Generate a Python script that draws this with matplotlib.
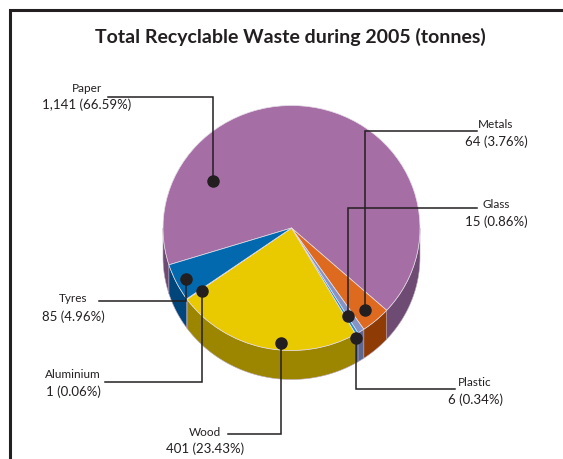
import numpy as np
import matplotlib
matplotlib.use("Agg")
import matplotlib.pyplot as plt
from matplotlib.patches import Polygon
from matplotlib.transforms import Affine2D

W, H = 563, 459

# Datos del grafico
categories = ["Paper", "Metals", "Glass", "Plastic", "Wood", "Aluminium", "Tyres"]
tonnes = ["1,141", "64", "15", "6", "401", "1", "85"]
percents = [66.59, 3.76, 0.86, 0.34, 23.43, 0.06, 4.96]

# Colores (cara superior y lateral)
top_colors = ["#A56FA6", "#DE6A20", "#8494C4", "#1F8DD6", "#E9C900", "#D8E2EC", "#0369AE"]
side_colors = ["#6E4B73", "#8F3B06", "#5B6894", "#155F92", "#9C8600", "#9AA4AE", "#00467B"]

# Geometria del pastel (pixeles, y hacia arriba)
CX, CY = 291.5, H - 228
RX, RY = 128.5, 122.5
DEPTH = 29
START = 197.5

# Etiquetas: (angulo, radio) del punto, centro x del texto, y nombre, y valor, y linea, x fin linea
labels = {
    "Paper": (147.9, 0.72, 87, 88, 105, 97, 108),
    "Metals": (-49.5, 0.88, 496, 124, 142, 131, 477),
    "Glass": (-58.5, 0.84, 496, 205, 222, 208, 477),
    "Plastic": (-61.0, 1.03, 475, 383, 400, 389, 455),
    "Wood": (-95.0, 0.94, 205, 432, 449, 434, 228),
    "Aluminium": (-143.6, 0.866, 73, 374, 392, 382, 105),
    "Tyres": (-153.1, 0.92, 73, 299, 317, 301, 99),
}

INK = "#231f20"
NAME_FONT = ["Liberation Sans Narrow", "Lato", "DejaVu Sans"]
VALUE_FONT = ["Lato", "DejaVu Sans"]


def Y(py):
    return H - py


fig = plt.figure(figsize=(W / 100, H / 100), dpi=100)
ax = fig.add_axes([0, 0, 1, 1])

# Cara superior
wedges, _ = ax.pie(percents, colors=top_colors, startangle=START, counterclock=False,
                   radius=RX, center=(CX, CY), frame=True,
                   wedgeprops=dict(edgecolor="#E8DEE8", linewidth=0.5))
squash = Affine2D().translate(-CX, -CY).scale(1, RY / RX).translate(CX, CY) + ax.transData
for w in wedges:
    w.set_transform(squash)
    w.set_zorder(3)

# Lateral (solo la mitad frontal)
bounds = START - 3.6 * np.concatenate([[0], np.cumsum(percents)])
for i in range(len(percents)):
    hi, lo = bounds[i], bounds[i + 1]
    for a, b in [(-180, 0), (180, 360)]:
        s, e = max(lo, a), min(hi, b)
        if e <= s:
            continue
        t = np.radians(np.linspace(s, e, 80))
        xs = CX + RX * np.cos(t)
        ys = CY + RY * np.sin(t)
        pts = np.column_stack([np.r_[xs, xs[::-1]], np.r_[ys, ys[::-1] - DEPTH]])
        ax.add_patch(Polygon(pts, closed=True, facecolor=side_colors[i],
                             edgecolor="#B9A6BC", linewidth=0.4, zorder=2))

# Puntos y lineas guia
for name, value, pct in zip(categories, tonnes, percents):
    ang, r, tx, ny, vy, ly, lx = labels[name]
    t = np.radians(ang)
    px = CX + r * RX * np.cos(t)
    py = CY + r * RY * np.sin(t)
    ax.plot([px, px, lx], [py, Y(ly), Y(ly)], color=INK, lw=1.1, zorder=4,
            solid_joinstyle="miter")
    ax.plot(px, py, "o", color=INK, markersize=8, zorder=5)
    ax.text(tx, Y(ny), name, ha="center", va="center", fontsize=8.5,
            family=NAME_FONT, color=INK)
    ax.text(tx, Y(vy), f"{value} ({pct:.2f}%)", ha="center", va="center",
            fontsize=9.5, family=VALUE_FONT, color=INK)

# Titulo
ax.text(290, Y(37), "Total Recyclable Waste during 2005 (tonnes)", ha="center",
        va="center", fontsize=14, fontweight="bold", family=VALUE_FONT, color=INK)

# Marco
ax.plot([9.5, 9.5, W + 5], [-5, Y(9.5), Y(9.5)], color=INK, lw=2.2,
        solid_joinstyle="miter", zorder=6)

ax.set_xlim(0, W)
ax.set_ylim(0, H)
ax.axis("off")
fig.savefig("out.png", dpi=100)
